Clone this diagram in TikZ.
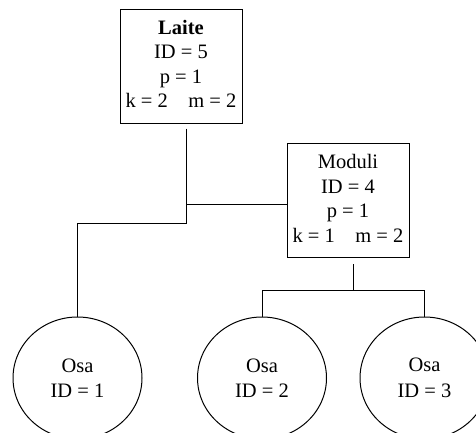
\documentclass[tikz,border=0pt]{standalone}
\usepackage{fontspec}
\setmainfont{Liberation Serif}
\usetikzlibrary{shapes.geometric,calc}
\tikzset{
  unit/.style={draw, line width=1pt, rectangle, minimum width=122pt, minimum height=114pt,
    inner sep=0pt, font=\fontsize{20.5}{24.5}\selectfont},
  part/.style={draw, line width=1pt, ellipse, minimum width=129pt, minimum height=122pt,
    align=center, inner sep=0pt, font=\fontsize{20.5}{25.5}\selectfont},
  link/.style={line width=1pt}
}
% four-line label, lifted a little above the box centre
\newcommand{\unitlabel}[4]{\raisebox{4pt}{\begin{tabular}{@{}c@{}}#1\\#2\\#3\\#4\end{tabular}}}
\begin{document}
\begin{tikzpicture}[x=1pt,y=-1pt]
  \useasboundingbox (0,0) rectangle (476,432);
  \clip (0,0) rectangle (476,432);
  % devices and modules
  \node[unit] (laite) at (181,66) {\unitlabel{\textbf{Laite}}{ID = 5}{p = 1}{k = 2\quad m = 2}};
  \node[unit] (moduli) at (348,200.5) {\unitlabel{Moduli}{ID = 4}{p = 1}{k = 1\quad m = 2}};
  % parts
  \node[part] (osa1) at (77.5,378) {Osa\\ID = 1};
  \node[part] (osa2) at (262,378) {Osa\\ID = 2};
  \node[part] (osa3) at (424.5,378) {Osa\\ID = 3};
  % junction points
  \coordinate (j1) at (186,204);
  \coordinate (j2) at (186,223);
  \coordinate (j3) at (353,290);
  % tree connectors
  \draw[link] ($(laite.south)+(5,5)$) -- (j1) -- (moduli.west |- j1);
  \draw[link] (j1) -- (j2) -- (osa1.north |- j2) -- (osa1.north);
  \draw[link] ($(moduli.south)+(5,6)$) -- (j3);
  \draw[link] (osa2.north) -- (osa2.north |- j3) -- (osa3.north |- j3) -- (osa3.north);
\end{tikzpicture}
\end{document}
